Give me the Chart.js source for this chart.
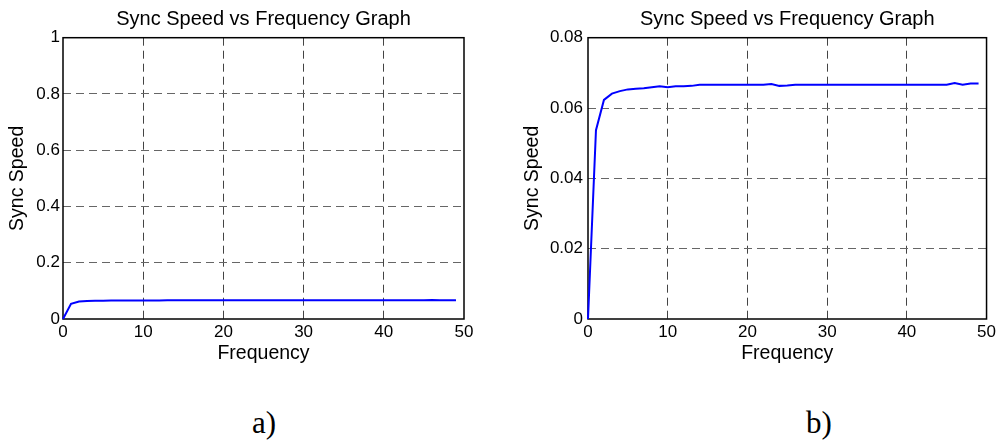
<!DOCTYPE html>
<html>
<head>
<meta charset="utf-8">
<script src="https://cdn.jsdelivr.net/npm/chart.js@4.4.1/dist/chart.umd.min.js"></script>
<style>
  html, body { margin: 0; padding: 0; background: #fff; }
  body { width: 999px; height: 441px; position: relative; overflow: hidden; }
  canvas { position: absolute; top: 0; }
  #cA { left: 0; }
  #cB { left: 499px; }
  .cap { position: absolute; top: 405px; font-family: "Liberation Serif", "Times New Roman", serif;
         font-size: 31px; line-height: normal; color: #000; transform: translateX(-50%); }
</style>
</head>
<body>
<canvas id="cA" width="480" height="370"></canvas>
<canvas id="cB" width="500" height="370"></canvas>
<div class="cap" style="left:264px">a)</div>
<div class="cap" style="left:819px">b)</div>
<script>
// Frequency samples and measured synchronisation speed
const frequency = [0, 1, 2, 3, 4, 5, 6, 7, 8, 9,
                   10, 11, 12, 13, 14, 15, 16, 17, 18, 19,
                   20, 21, 22, 23, 24, 25, 26, 27, 28, 29,
                   30, 31, 32, 33, 34, 35, 36, 37, 38, 39,
                   40, 41, 42, 43, 44, 45, 46, 47, 48, 49];
const syncSpeed = [0, 0.0537, 0.0623, 0.0641, 0.0648, 0.0653, 0.0655, 0.0656, 0.0659, 0.0662,
                   0.0659, 0.0662, 0.0662, 0.0663, 0.0666, 0.0666, 0.0666, 0.0666, 0.0666, 0.0666,
                   0.0666, 0.0666, 0.0666, 0.0668, 0.0663, 0.0664, 0.0666, 0.0666, 0.0666, 0.0666,
                   0.0666, 0.0666, 0.0666, 0.0666, 0.0666, 0.0666, 0.0666, 0.0666, 0.0666, 0.0666,
                   0.0666, 0.0666, 0.0666, 0.0666, 0.0666, 0.0666, 0.0671, 0.0666, 0.0670, 0.0670];

// Tick labels
const xTicks = [0, 10, 20, 30, 40, 50];
const yTicksFull = [0, 0.2, 0.4, 0.6, 0.8, 1];
const yTicksZoom = [0, 0.02, 0.04, 0.06, 0.08];

const TITLE = 'Sync Speed vs Frequency Graph';
const FONT = '"Liberation Sans", Arial, Helvetica, sans-serif';

// Solid box around the plotting area
const frame = {
  id: 'frame',
  beforeDatasetsDraw(chart) {
    const { ctx, chartArea: a } = chart;
    ctx.save();
    ctx.strokeStyle = '#000';
    ctx.lineWidth = 1.5;
    ctx.strokeRect(a.left, a.top, a.right - a.left, a.bottom - a.top);
    ctx.restore();
  }
};

// Title centred over the plotting area
const plotTitle = {
  id: 'plotTitle',
  afterDraw(chart) {
    const { ctx, chartArea: a } = chart;
    ctx.save();
    ctx.fillStyle = '#000';
    ctx.font = '20px ' + FONT;
    ctx.textAlign = 'center';
    ctx.textBaseline = 'alphabetic';
    ctx.fillText(TITLE, (a.left + a.right) / 2, 24.5);
    ctx.restore();
  }
};

function makeChart(id, yTicks, o) {
  const yMax = yTicks[yTicks.length - 1];
  const xMax = xTicks[xTicks.length - 1];
  return new Chart(document.getElementById(id), {
    type: 'line',
    data: {
      datasets: [{
        data: frequency.map((f, i) => ({ x: f, y: syncSpeed[i] })),
        borderColor: '#0000ff',
        borderWidth: 2,
        pointRadius: 0,
        tension: 0,
        fill: false,
        clip: 4
      }]
    },
    options: {
      responsive: false,
      animation: false,
      devicePixelRatio: 1,
      layout: { padding: { left: 0, right: o.padRight, top: 37.7, bottom: 0 } },
      plugins: {
        legend: { display: false },
        tooltip: { enabled: false },
        title: { display: false }
      },
      scales: {
        x: {
          type: 'linear',
          min: 0, max: xMax,
          afterBuildTicks: s => { s.ticks = xTicks.map(v => ({ value: v })); },
          afterFit: s => { s.height = 51; },
          ticks: { color: '#000', font: { family: FONT, size: 17 }, padding: 3, maxRotation: 0,
                   callback: v => String(v) },
          grid: { drawTicks: false,
                  color: c => (c.tick && (c.tick.value === 0 || c.tick.value === xMax)) ? 'rgba(0,0,0,0)' : '#444' },
          border: { display: false, dash: [8, 5] },
          title: { display: true, text: 'Frequency', color: '#000',
                   font: { family: FONT, size: 19.5, lineHeight: 1.2 }, padding: { top: 0, bottom: 4.3 } }
        },
        y: {
          type: 'linear',
          min: 0, max: yMax,
          afterBuildTicks: s => { s.ticks = yTicks.map(v => ({ value: v })); },
          afterFit: s => { s.width = o.yWidth; },
          ticks: { color: '#000', font: { family: FONT, size: 17 }, padding: o.tickPad,
                   callback: v => String(v) },
          grid: { drawTicks: false,
                  color: c => (c.tick && (c.tick.value === 0 || c.tick.value === yMax)) ? 'rgba(0,0,0,0)' : '#666' },
          border: { display: false, dash: [8, 5] },
          title: { display: true, text: 'Sync Speed', color: '#000',
                   font: { family: FONT, size: 19.5, lineHeight: 1.2 }, padding: { top: o.titlePad, bottom: 0 } }
        }
      }
    },
    plugins: [frame, plotTitle]
  });
}

makeChart('cA', yTicksFull, { padRight: 16, yWidth: 63, tickPad: 3, titlePad: 6 });
makeChart('cB', yTicksZoom, { padRight: 12, yWidth: 89, tickPad: 5, titlePad: 22 });
</script>
</body>
</html>
